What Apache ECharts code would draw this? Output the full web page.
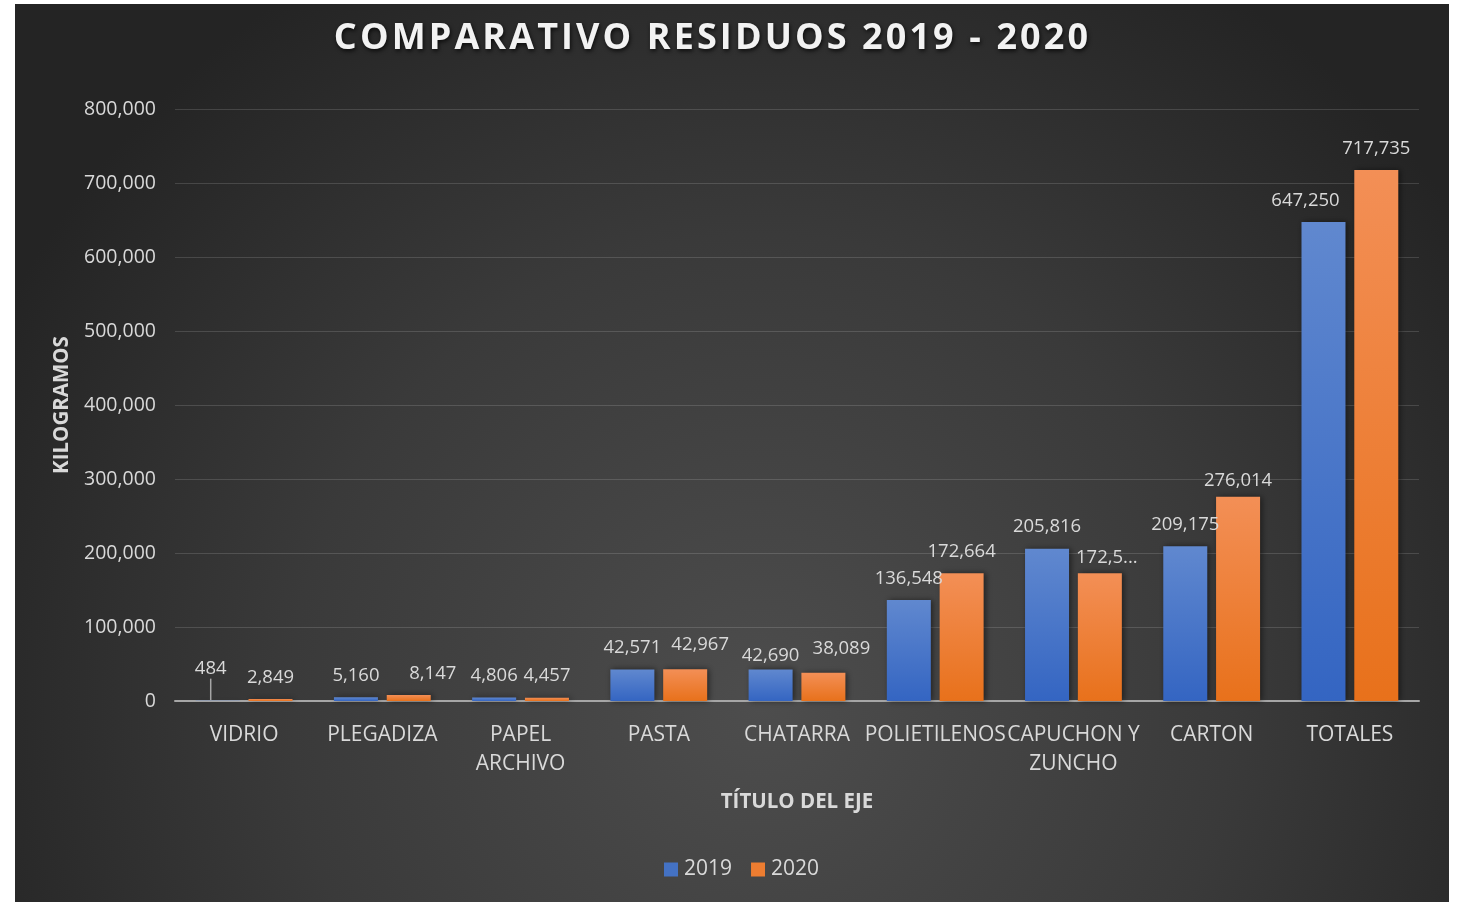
<!DOCTYPE html>
<html>
<head>
<meta charset="utf-8">
<script src="https://cdn.jsdelivr.net/npm/echarts@6/dist/echarts.min.js"></script>
<style>
html,body{margin:0;padding:0;background:#ffffff;width:1458px;height:902px;overflow:hidden;}
#chart{position:absolute;left:15px;top:4px;width:1434px;height:898px;}
#title{position:absolute;left:0;top:14px;width:1425px;text-align:center;
  font-family:"Open Sans","Noto Sans",sans-serif;font-weight:bold;font-size:36px;line-height:44px;
  letter-spacing:3.1px;color:#f2f2f2;text-shadow:1px 2px 4px rgba(0,0,0,0.75);white-space:nowrap;pointer-events:none;}
</style>
</head>
<body>
<div id="chart"></div>
<div id="title"></div>
<script>
// ---- data ----
const categories = ["VIDRIO", "PLEGADIZA", "PAPEL\nARCHIVO", "PASTA", "CHATARRA", "POLIETILENOS", "CAPUCHON Y\nZUNCHO", "CARTON", "TOTALES"];
const seriesNames = ["2019", "2020"];
const values2019 = [484, 5160, 4806, 42571, 42690, 136548, 205816, 209175, 647250];
const values2020 = [2849, 8147, 4457, 42967, 38089, 172664, 172548, 276014, 717735];
const yTicks = [0, 100000, 200000, 300000, 400000, 500000, 600000, 700000, 800000];
const titleText = "COMPARATIVO RESIDUOS 2019 - 2020";
const xAxisTitle = "TÍTULO DEL EJE";
const yAxisTitle = "KILOGRAMOS";

// ---- label nudges (styling, as in the original's manual label placement) ----
const nudge2019 = {0: [-7, -10], 4: [0, 8], 8: [-18, 0]};
const nudge2020 = {1: [24, 0], 3: [15, -3], 4: [18, -3], 6: [7, 6], 7: [0, 5]};
const truncated2020 = {6: "172,5..."};

document.getElementById('title').textContent = titleText;

const fmt = v => v.toLocaleString('en-US');
const FONT = '"Open Sans", "Noto Sans", sans-serif';
const TXT = '#d9d9d9';

function grad(top, bottom){
  return {type:'linear', x:0, y:0, x2:0, y2:1, colorStops:[{offset:0,color:top},{offset:1,color:bottom}]};
}

const chart = echarts.init(document.getElementById('chart'), null, {renderer:'canvas'});

const labelBase = {
  show: true, position: 'top', distance: 12,
  color: TXT, fontFamily: FONT, fontSize: 18.5
};

const option = {
  backgroundColor: {
    type:'radial', x:0.52, y:0.78, r:0.95,
    colorStops:[{offset:0,color:'#4d4d4d'},{offset:0.55,color:'#3a3a3a'},{offset:1,color:'#242424'}]
  },
  legend: {
    data: [
      {name: seriesNames[0], itemStyle:{color:'#4472c4'}},
      {name: seriesNames[1], itemStyle:{color:'#ed7d31'}}
    ],
    bottom: 17, left: 644,
    itemWidth: 14, itemHeight: 14, itemGap: 19,
    icon: 'rect',
    textStyle: {color: TXT, fontFamily: FONT, fontSize: 21, padding:[0,0,0,1]}
  },
  grid: {left: 160, right: 30, top: 105, bottom: 201, containLabel: false},
  xAxis: {
    type: 'category', data: categories,
    name: xAxisTitle, nameLocation: 'middle', nameGap: 91,
    nameTextStyle: {color: TXT, fontFamily: FONT, fontWeight:'bold', fontSize: 20.5},
    axisLine: {show: true, lineStyle: {color:'#a6a6a6', width: 2}},
    axisTick: {show: false},
    axisLabel: {color: TXT, fontFamily: FONT, fontSize: 21, margin: 20, lineHeight: 29, interval: 0}
  },
  yAxis: {
    type: 'value', min: yTicks[0], max: yTicks[yTicks.length-1], interval: yTicks[1]-yTicks[0],
    name: yAxisTitle, nameLocation: 'middle', nameGap: 101, nameRotate: 90,
    nameTextStyle: {color: TXT, fontFamily: FONT, fontWeight:'bold', fontSize: 20.5},
    axisLine: {show:false}, axisTick:{show:false},
    axisLabel: {color: TXT, fontFamily: FONT, fontSize: 19.5, margin: 19, formatter: v => fmt(v)},
    splitLine: {lineStyle: {color:'rgba(255,255,255,0.14)', width: 1}}
  },
  series: [
    {
      name: seriesNames[0], type: 'bar', barWidth: 44, barGap: '20%',
      itemStyle: {color: grad('#6088cf', '#3465c2'), shadowColor:'rgba(0,0,0,0.5)', shadowBlur:6, shadowOffsetX:2, shadowOffsetY:0},
      data: values2019.map((v,i) => i === 0 ? {value:v, labelLine:{show:true, lineStyle:{color:'#a6a6a6', width:1.5}}} : v),
      label: Object.assign({}, labelBase, {formatter: p => fmt(p.value)}),
      labelLine: {show:false, length2: 0, smooth:false},
      labelLayout: p => { const n = nudge2019[p.dataIndex]; return n ? {dx:n[0], dy:n[1]} : {}; }
    },
    {
      name: seriesNames[1], type: 'bar', barWidth: 44,
      itemStyle: {color: grad('#f38f56', '#e8711b'), shadowColor:'rgba(0,0,0,0.5)', shadowBlur:6, shadowOffsetX:2, shadowOffsetY:0},
      data: values2020,
      label: Object.assign({}, labelBase, {formatter: p => truncated2020[p.dataIndex] || fmt(p.value)}),
      labelLayout: p => { const n = nudge2020[p.dataIndex]; return n ? {dx:n[0], dy:n[1]} : {}; }
    }
  ]
};
chart.setOption(option);
</script>
</body>
</html>
